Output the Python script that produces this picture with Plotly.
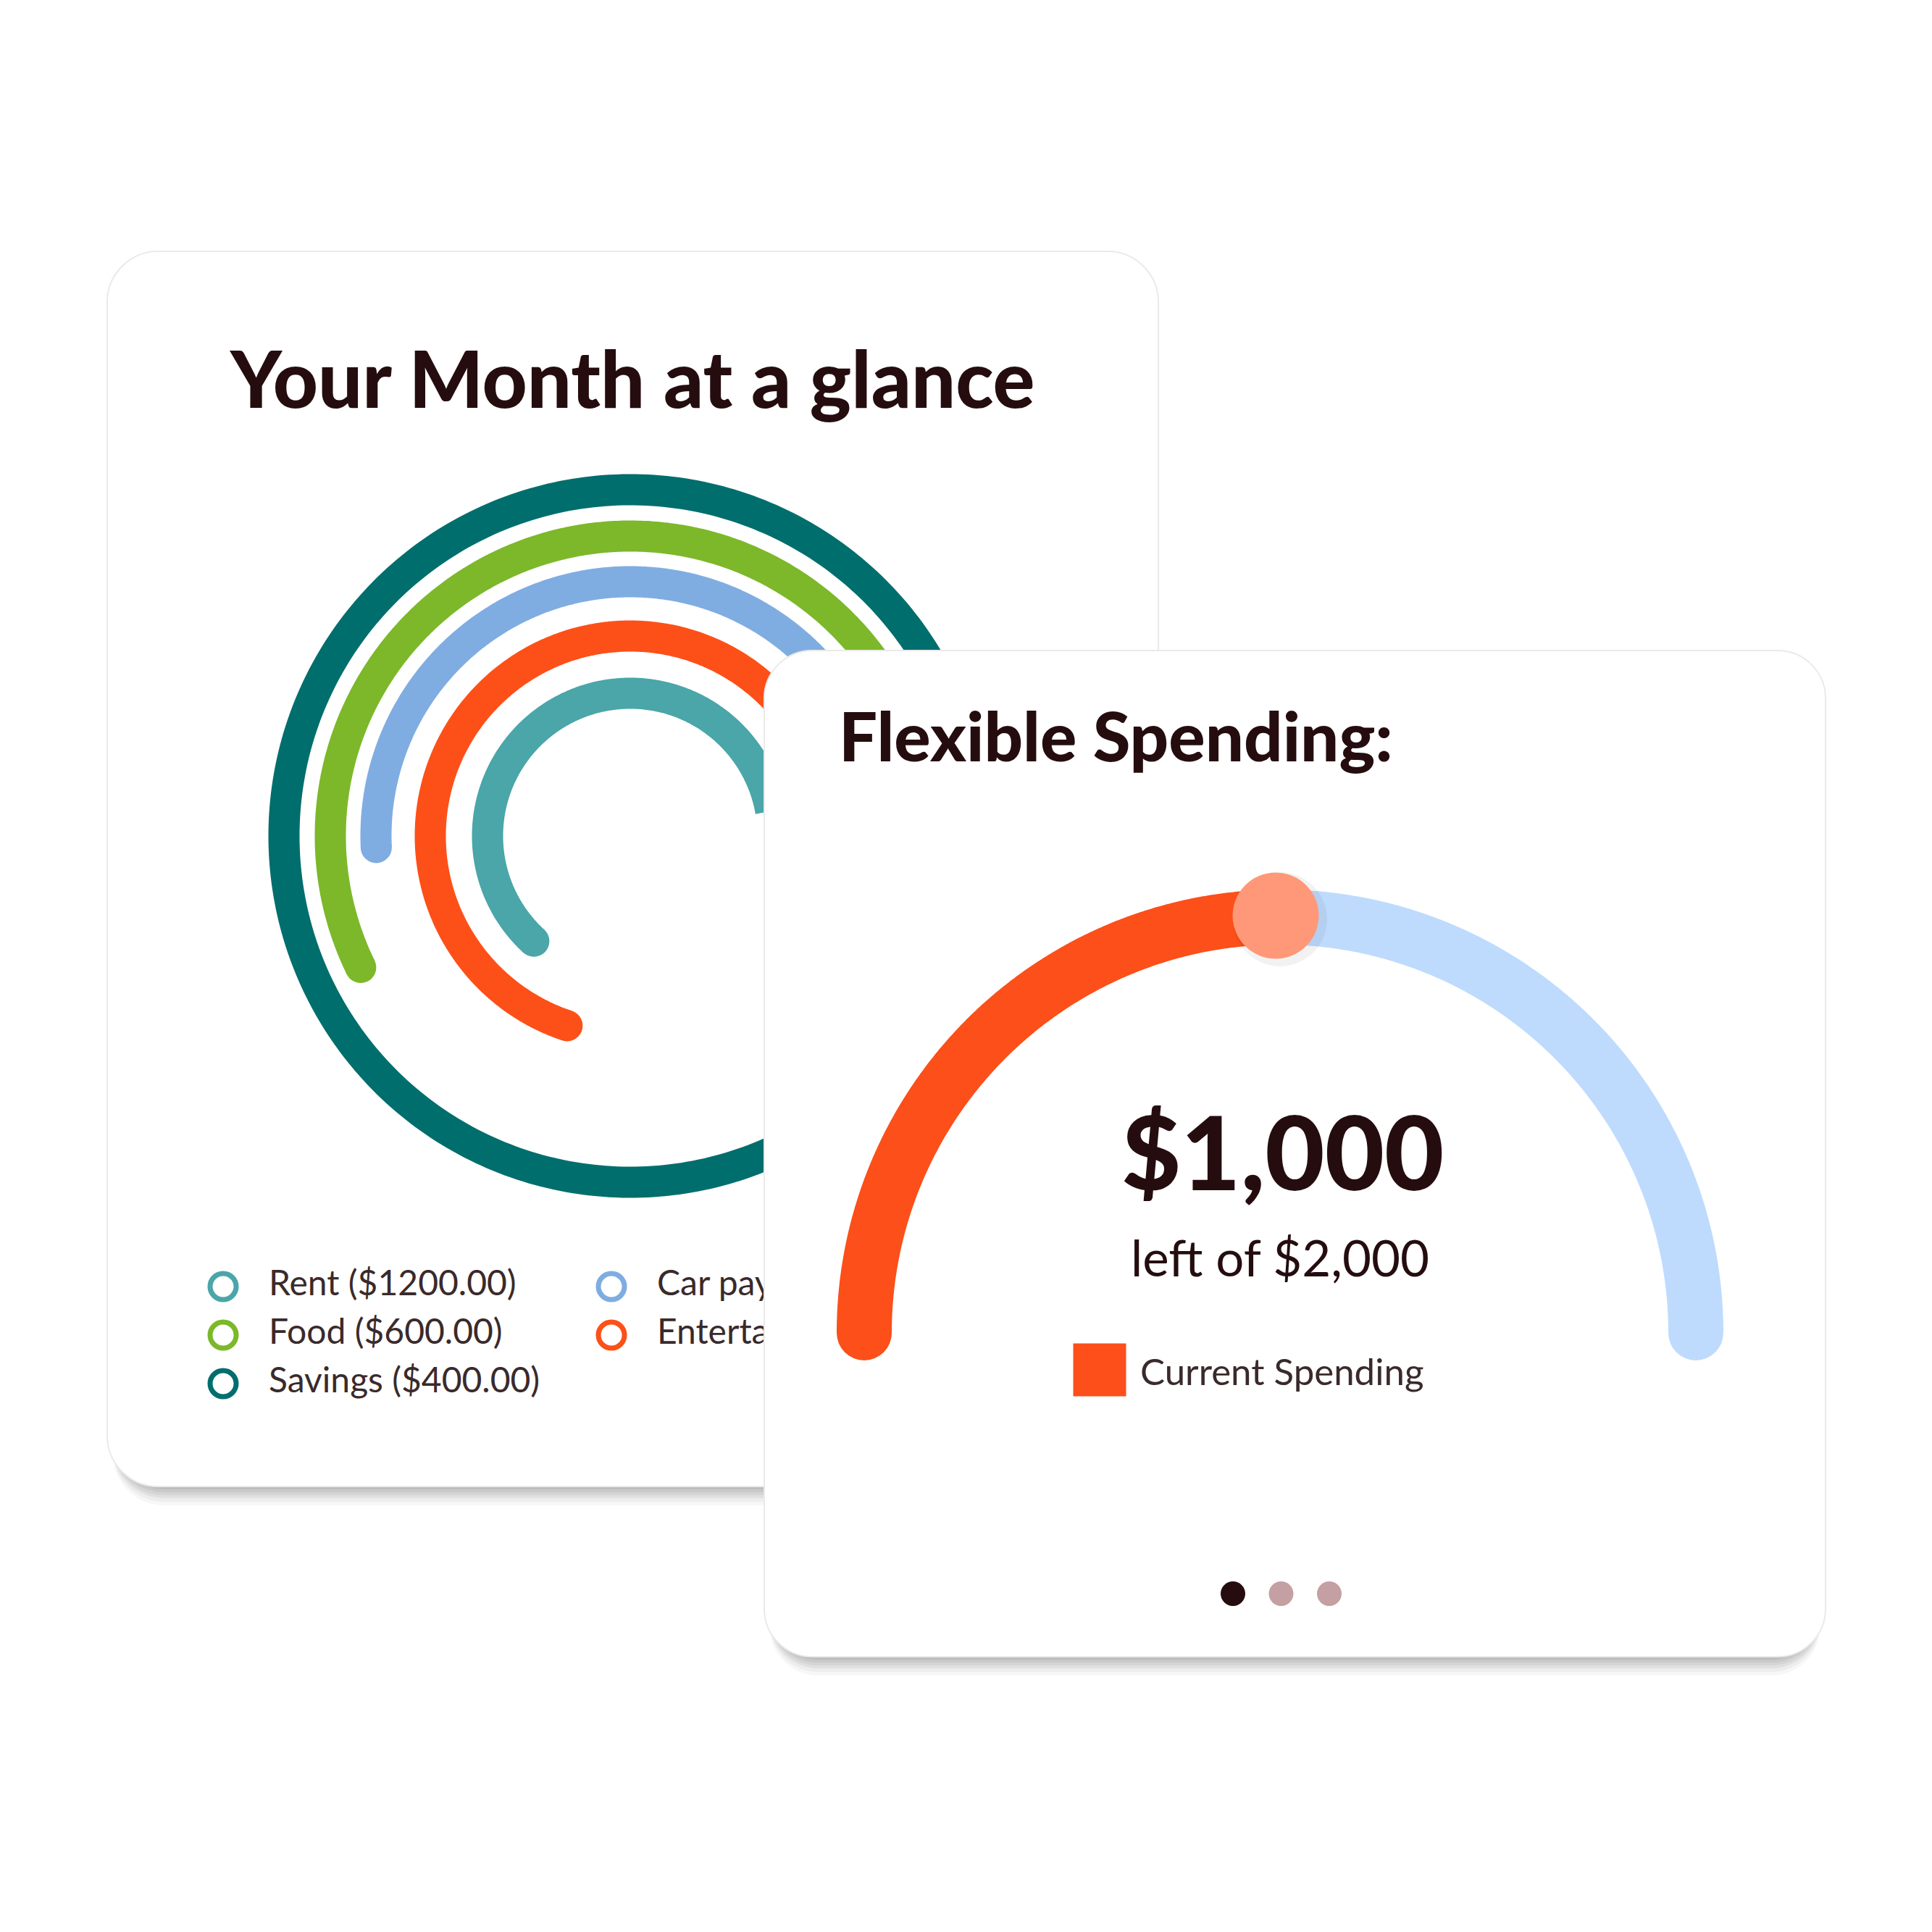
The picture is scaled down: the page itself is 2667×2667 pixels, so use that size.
import numpy as np
import plotly.graph_objects as go

# ------------------------------------------------------------------ data
categories = ["Rent", "Food", "Savings", "Car payment", "Entertainment"]
amounts = [1200.00, 600.00, 400.00, 800.00, 250.00]
# angular extent of each category's ring (degrees, counter-clockwise from 3 o'clock)
arc_start_deg = [10.0, 10.0, 0.0, 10.0, 10.0]
arc_end_deg = [227.5, 206.0, 360.0, 182.6, 251.6]
cat_colors = ["#4AA6A8", "#7CB82A", "#006E6D", "#7FADE2", "#FD5018"]

spent = 1000
budget = 2000
gauge_label = "Current Spending"
page_count = 3
active_page = 0

# ------------------------------------------------------------------ layout constants (pixels)
W = H = 2667
INK = "#250D0F"
RING_C = (870, 1154)
RING_R = [197, 414, 478, 351, 276]
RING_W = 43
LEG_X = [308, 308, 308, 844, 844]
LEG_Y = [1776, 1843, 1910, 1776, 1843]
G_C = (1767, 1840)
G_R = 574
G_W = 76

LEFT_CARD = (148, 347, 1599, 2052, 70)
RIGHT_CARD = (1055, 898, 2520, 2287, 66)


def rrect(x0, y0, x1, y1, r):
    k = 0.45
    return (f"M{x0+r},{y0} L{x1-r},{y0} C{x1-r*k},{y0} {x1},{y0+r*k} {x1},{y0+r} "
            f"L{x1},{y1-r} C{x1},{y1-r*k} {x1-r*k},{y1} {x1-r},{y1} "
            f"L{x0+r},{y1} C{x0+r*k},{y1} {x0},{y1-r*k} {x0},{y1-r} "
            f"L{x0},{y0+r} C{x0},{y0+r*k} {x0+r*k},{y0} {x0+r},{y0} Z")


def arc_xy(c, r, a0, a1, n=360):
    t = np.radians(np.linspace(a0, a1, n))
    return c[0] + r * np.cos(t), c[1] - r * np.sin(t)


fig = go.Figure()
shapes = []


def card(box, xr, yr):
    x0, y0, x1, y1, r = box
    out = []
    for dy, op in [(4, 0.05), (8, 0.05), (12, 0.05), (16, 0.05), (21, 0.04), (26, 0.03)]:
        out.append(dict(type="path", path=rrect(x0 + 8, y0 + dy, x1 - 8, y1 + dy, r),
                        xref=xr, yref=yr, layer="below",
                        fillcolor=f"rgba(0,0,0,{op})", line=dict(width=0)))
    out.append(dict(type="path", path=rrect(x0, y0, x1, y1, r), xref=xr, yref=yr,
                    layer="below", fillcolor="white", line=dict(color="#EAEAEA", width=2)))
    return out


shapes += card(LEFT_CARD, "x", "y")
shapes += card(RIGHT_CARD, "x2", "y2")

# ---------------------------------------------------------- left card: radial arcs
for i, cat in enumerate(categories):
    xs, ys = arc_xy(RING_C, RING_R[i], arc_start_deg[i], arc_end_deg[i])
    fig.add_trace(go.Scatter(x=xs, y=ys, mode="lines", xaxis="x", yaxis="y",
                             line=dict(color=cat_colors[i], width=RING_W, simplify=False),
                             hoverinfo="skip", showlegend=False))
    if arc_end_deg[i] - arc_start_deg[i] < 360:
        fig.add_trace(go.Scatter(x=[xs[-1]], y=[ys[-1]], mode="markers", xaxis="x", yaxis="y",
                                 marker=dict(size=RING_W, color=cat_colors[i], opacity=1,
                                             line=dict(width=0)),
                                 hoverinfo="skip", showlegend=False))

# legend (drawn as traces so the right card covers it)
fig.add_trace(go.Scatter(
    x=LEG_X, y=LEG_Y, mode="markers", xaxis="x", yaxis="y",
    marker=dict(symbol="circle-open", size=36, color=cat_colors, opacity=1,
                line=dict(width=7, color=cat_colors)),
    hoverinfo="skip", showlegend=False))
fig.add_trace(go.Scatter(
    x=[x + 63 for x in LEG_X], y=LEG_Y, mode="text", xaxis="x", yaxis="y",
    text=[f"{c} (${a:.2f})" for c, a in zip(categories, amounts)],
    textposition="middle right",
    textfont=dict(family="Lato", size=48, color="#3A2A2B"),
    hoverinfo="skip", showlegend=False))

# ---------------------------------------------------------- right card: gauge
frac = spent / budget
split = 180 - 180 * frac
xs, ys = arc_xy(G_C, G_R, 180, split)
fig.add_trace(go.Scatter(x=xs, y=ys, mode="lines", xaxis="x2", yaxis="y2",
                         line=dict(color="#FC4F19", width=G_W, simplify=False),
                         hoverinfo="skip", showlegend=False))
fig.add_trace(go.Scatter(x=[xs[0]], y=[ys[0]], mode="markers", xaxis="x2", yaxis="y2",
                         marker=dict(size=G_W, color="#FC4F19", opacity=1, line=dict(width=0)),
                         hoverinfo="skip", showlegend=False))
xb, yb = arc_xy(G_C, G_R, split, 0)
fig.add_trace(go.Scatter(x=xb, y=yb, mode="lines", xaxis="x2", yaxis="y2",
                         line=dict(color="#BEDBFD", width=G_W, simplify=False),
                         hoverinfo="skip", showlegend=False))
fig.add_trace(go.Scatter(x=[xb[-1]], y=[yb[-1]], mode="markers", xaxis="x2", yaxis="y2",
                         marker=dict(size=G_W, color="#BEDBFD", opacity=1, line=dict(width=0)),
                         hoverinfo="skip", showlegend=False))
# knob: soft halo, then the knob itself
fig.add_trace(go.Scatter(x=[xs[-1]], y=[ys[-1] + 3], mode="markers", xaxis="x2", yaxis="y2",
                         marker=dict(size=130, color="rgba(0,0,0,0.05)", opacity=1,
                                     line=dict(width=0)),
                         hoverinfo="skip", showlegend=False))
fig.add_trace(go.Scatter(x=[xs[-1] - 6], y=[ys[-1] - 2], mode="markers", xaxis="x2", yaxis="y2",
                         marker=dict(size=119, color="#FF9878", opacity=1, line=dict(width=0)),
                         hoverinfo="skip", showlegend=False))
# legend swatch
fig.add_trace(go.Scatter(x=[1518], y=[1891], mode="markers", xaxis="x2", yaxis="y2",
                         marker=dict(symbol="square", size=68, color="#FC4F19", opacity=1,
                                     line=dict(width=5, color="#FC4F19")),
                         hoverinfo="skip", showlegend=False))
# pagination dots
fig.add_trace(go.Scatter(x=[1702 + 66.5 * i for i in range(page_count)], y=[2200] * page_count,
                         mode="markers", xaxis="x2", yaxis="y2",
                         marker=dict(size=34, opacity=1,
                                     color=[INK if i == active_page else "#C4A0A3"
                                            for i in range(page_count)],
                                     line=dict(width=0)),
                         hoverinfo="skip", showlegend=False))

annotations = [
    dict(text="Your Month at a glance", x=872, y=521, xref="x", yref="y",
         xanchor="center", yanchor="middle", showarrow=False,
         font=dict(family="Lato", size=108, color=INK, weight=900)),
    dict(text="Flexible Spending:", x=1156, y=1014, xref="x2", yref="y2",
         xanchor="left", yanchor="middle", showarrow=False,
         font=dict(family="Lato", size=94, color=INK, weight=900)),
    dict(text=f"${budget - spent:,.0f}", x=1770, y=1588, xref="x2", yref="y2",
         xanchor="center", yanchor="middle", showarrow=False,
         font=dict(family="Lato", size=142, color=INK, weight=900)),
    dict(text=f"left of ${budget:,.0f}", x=1767, y=1735, xref="x2", yref="y2",
         xanchor="center", yanchor="middle", showarrow=False,
         font=dict(family="Lato", size=69, color=INK)),
    dict(text=gauge_label, x=1572, y=1892, xref="x2", yref="y2",
         xanchor="left", yanchor="middle", showarrow=False,
         font=dict(family="Lato", size=51, color="#3A2A2B")),
]

ax = dict(range=[0, W], visible=False, fixedrange=True, domain=[0, 1])
ay = dict(range=[H, 0], visible=False, fixedrange=True, domain=[0, 1])
fig.update_layout(
    width=W, height=H, autosize=False,
    margin=dict(l=0, r=0, t=0, b=0, pad=0),
    paper_bgcolor="white", plot_bgcolor="rgba(0,0,0,0)",
    xaxis=ax, yaxis=ay,
    xaxis2=dict(ax, anchor="y2"), yaxis2=dict(ay, anchor="x2"),
    shapes=shapes, annotations=annotations, showlegend=False,
)
fig.write_html("out.html")
